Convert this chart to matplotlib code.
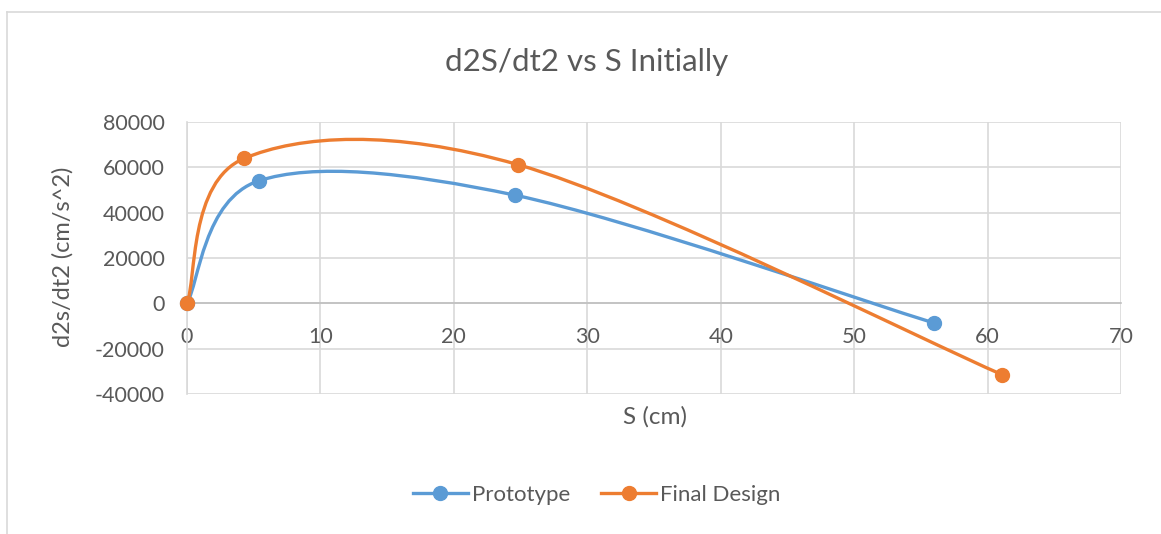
import matplotlib.pyplot as plt
from matplotlib.path import Path
from matplotlib.patches import PathPatch
from matplotlib.lines import Line2D

# values
s_proto = [0, 5.36, 24.6, 56.0]
a_proto = [0, 54000, 47700, -8700]
s_final = [0, 4.27, 24.8, 61.1]
a_final = [0, 63900, 61200, -31500]

x_ticks = [0, 10, 20, 30, 40, 50, 60, 70]
y_ticks = [-40000, -20000, 0, 20000, 40000, 60000, 80000]

blue = '#5B9BD5'
orange = '#ED7D31'
grey_txt = '#595959'
grid_c = '#D9D9D9'

plt.rcParams['font.family'] = ['Lato', 'DejaVu Sans']
plt.rcParams['axes.unicode_minus'] = False


def smooth_path(xs, ys):
    # Excel-style smoothed line: cubic bezier segments, catmull-rom control points
    pts = list(zip(xs, ys))
    n = len(pts)
    verts = [pts[0]]
    codes = [Path.MOVETO]
    for i in range(n - 1):
        p0 = pts[i - 1] if i > 0 else pts[i]
        p1 = pts[i]
        p2 = pts[i + 1]
        p3 = pts[i + 2] if i + 2 < n else pts[i + 1]
        c1 = (p1[0] + (p2[0] - p0[0]) / 6, p1[1] + (p2[1] - p0[1]) / 6)
        c2 = (p2[0] - (p3[0] - p1[0]) / 6, p2[1] - (p3[1] - p1[1]) / 6)
        verts += [c1, c2, p2]
        codes += [Path.CURVE4] * 3
    return Path(verts, codes)


fig = plt.figure(figsize=(11.61, 5.34), dpi=100)
ax = fig.add_axes([187 / 1161, 1 - 394 / 534, (1121 - 187) / 1161, (394 - 122) / 534])

ax.set_xlim(0, 70)
ax.set_ylim(-40000, 80000)
ax.set_xticks(x_ticks)
ax.set_yticks(y_ticks)
ax.grid(True, color=grid_c, lw=1.2)
ax.set_axisbelow(True)

for side in ['top', 'right']:
    ax.spines[side].set_visible(False)
ax.spines['left'].set_position(('data', 0))
ax.spines['left'].set_color(grid_c)
ax.spines['left'].set_linewidth(1.2)
ax.spines['bottom'].set_position(('data', 0))
ax.spines['bottom'].set_color('#BFBFBF')
ax.spines['bottom'].set_linewidth(1.2)
ax.tick_params(axis='x', length=0, pad=17, labelsize=15.5, labelcolor=grey_txt)
ax.tick_params(axis='y', length=0, pad=16, labelsize=15.5, labelcolor=grey_txt)

for xs, ys, c in [(s_proto, a_proto, blue), (s_final, a_final, orange)]:
    ax.add_patch(PathPatch(smooth_path(xs, ys), facecolor='none', edgecolor=c,
                           lw=2.4, capstyle='round', zorder=3))
    ax.plot(xs, ys, 'o', color=c, ms=10, zorder=4, clip_on=False)

fig.text(587 / 1161, 1 - 62 / 534, 'd2S/dt2 vs S Initially', ha='center', va='center',
         fontsize=22.5, color=grey_txt)
fig.text(655 / 1161, 1 - 417 / 534, 'S (cm)', ha='center', va='center',
         fontsize=17.5, color=grey_txt)
fig.text(63 / 1161, 1 - 257 / 534, 'd2s/dt2 (cm/s^2)', ha='center', va='center',
         rotation=90, fontsize=17, color=grey_txt)

handles = [Line2D([], [], color=blue, lw=2.4, marker='o', ms=10),
           Line2D([], [], color=orange, lw=2.4, marker='o', ms=10)]
fig.legend(handles, ['Prototype', 'Final Design'], loc='center',
           bbox_to_anchor=(597 / 1161, 1 - 495 / 534), ncol=2, frameon=False,
           fontsize=16, labelcolor=grey_txt, handlelength=2.45, handletextpad=0.2,
           columnspacing=1.4)

# chart area border (top and left edges visible)
fig.add_artist(Line2D([7 / 1161, 7 / 1161], [0, 1 - 12 / 534], transform=fig.transFigure,
                      color=grid_c, lw=1.2))
fig.add_artist(Line2D([7 / 1161, 1], [1 - 12 / 534, 1 - 12 / 534], transform=fig.transFigure,
                      color=grid_c, lw=1.2))

fig.savefig('out.png', dpi=100, facecolor='white')
